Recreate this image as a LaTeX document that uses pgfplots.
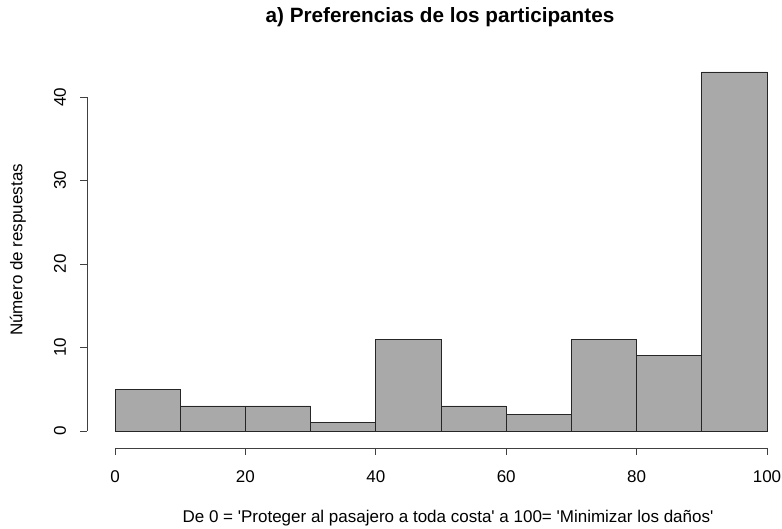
\documentclass[border=0pt]{standalone}
\usepackage{fontspec}
\setmainfont{Liberation Sans}
\usepackage{pgfplots}
\pgfplotsset{compat=1.18}
\definecolor{histgray}{HTML}{A9A9A9}
\definecolor{axiscol}{HTML}{404040}
\newcommand{\lblfont}{\fontsize{17}{20}\selectfont}
\begin{document}
\begin{tikzpicture}[x=1pt,y=1pt]
\begin{axis}[
  at={(87pt,81pt)}, anchor=south west,
  scale only axis, width=695pt, height=390.4pt,
  xmin=-4.3, xmax=102.3, ymin=-2.04, ymax=44.72,
  axis lines=none, clip=false,
]
% histogram counts per 10-point bin
\addplot[ybar interval, fill=histgray, draw=black!85, line width=0.8pt]
  coordinates {(0,5) (10,3) (20,3) (30,1) (40,11) (50,3) (60,2) (70,11) (80,9) (90,43) (100,43)};
% x axis
\draw[axiscol, line width=0.8pt] (axis cs:0,-2.04) -- (axis cs:100,-2.04);
\pgfplotsinvokeforeach{0,20,40,60,80,100}{
  \draw[axiscol, line width=0.8pt] (axis cs:#1,-2.04) -- ++(0pt,-7pt);
  \node[font=\lblfont] at ([yshift=-29pt]axis cs:#1,-2.04) {#1};
}
% y axis
\draw[axiscol, line width=0.8pt] (axis cs:-4.3,0) -- (axis cs:-4.3,40);
\pgfplotsinvokeforeach{0,10,20,30,40}{
  \draw[axiscol, line width=0.8pt] (axis cs:-4.3,#1) -- ++(-7pt,0pt);
  \node[rotate=90, font=\lblfont] at ([xshift=-27pt]axis cs:-4.3,#1) {#1};
}
\end{axis}
\node[font=\fontsize{20.7}{24}\selectfont\bfseries] at (440,512) {a) Preferencias de los participantes};
\node[font=\lblfont] at (448,11) {De 0 = \textquotesingle Proteger al pasajero a toda costa\textquotesingle{} a 100= \textquotesingle Minimizar los daños\textquotesingle};
\node[rotate=90, font=\lblfont] at (18,279) {Número de respuestas};
\pgfresetboundingbox
\useasboundingbox (0,0) rectangle (782,529);
\end{tikzpicture}
\end{document}
